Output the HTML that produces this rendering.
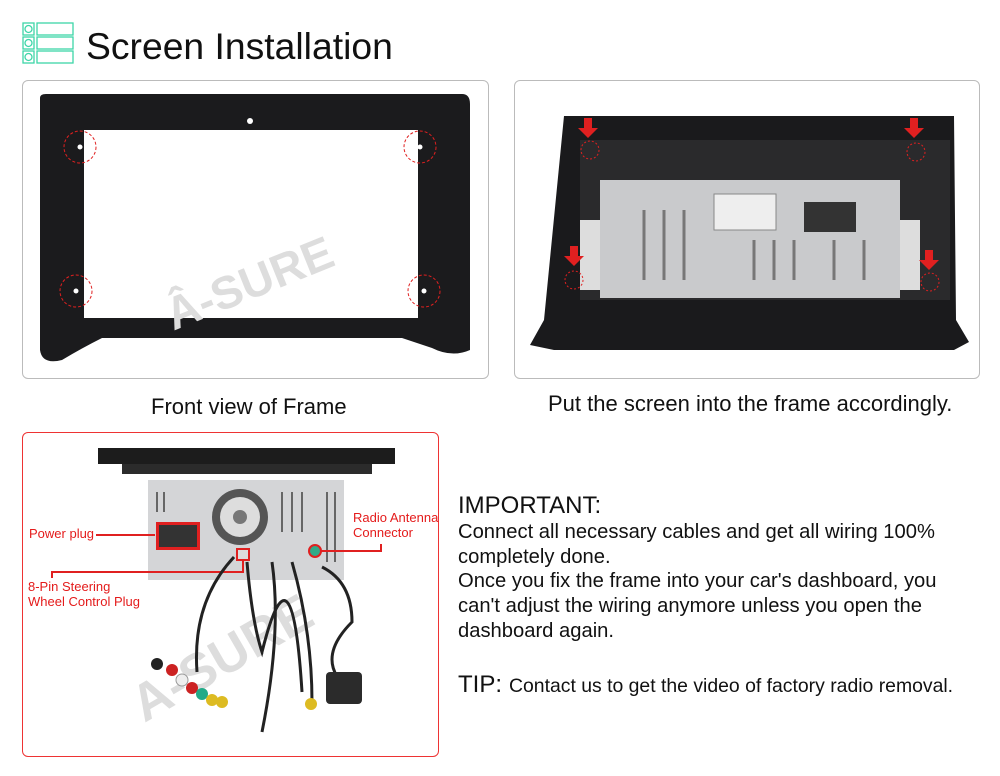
<!DOCTYPE html>
<html><head><style>
body{margin:0;width:1000px;height:776px;background:#fff;position:relative;overflow:hidden;font-family:"Liberation Sans",sans-serif;color:#111}
.a{position:absolute}
.box{position:absolute;border:1px solid #bbb;border-radius:6px;box-sizing:border-box}
.t{position:absolute;white-space:nowrap}
.r{color:#e41b1b;font-size:13px;position:absolute;white-space:nowrap}
</style></head><body>
<svg class="a" style="left:22px;top:22px" width="54" height="44">
<g fill="none" stroke="#3dd6a8" stroke-width="1.3">
<rect x="1" y="1" width="11" height="12"/><circle cx="6.5" cy="7" r="3.5"/><rect x="15" y="1" width="36" height="12"/>
<rect x="1" y="15" width="11" height="12"/><circle cx="6.5" cy="21" r="3.5"/><rect x="15" y="15" width="36" height="12"/>
<rect x="1" y="29" width="11" height="12"/><circle cx="6.5" cy="35" r="3.5"/><rect x="15" y="29" width="36" height="12"/></g></svg>
<div class="t" style="left:86px;top:25px;font-size:37.3px">Screen Installation</div>

<div class="box" style="left:22px;top:80px;width:467px;height:299px"></div>
<svg class="a" style="left:22px;top:80px" width="467" height="299">
<path d="M18 18 Q18 14 24 14 L440 14 Q448 14 448 24 L448 270 Q430 278 410 268 L380 258 L80 258 Q60 268 40 280 Q20 285 18 270 Z" fill="#1b1b1d"/>
<rect x="62" y="50" width="334" height="188" fill="#fff"/>
<text x="130" y="220" font-size="46" font-weight="bold" fill="#ddd" transform="rotate(-22 220 180)" font-family="Liberation Sans">Â-SURE</text>
<g fill="none" stroke="#e02020" stroke-dasharray="3 2"><circle cx="58" cy="67" r="16"/><circle cx="398" cy="67" r="16"/><circle cx="54" cy="211" r="16"/><circle cx="402" cy="211" r="16"/></g>
<g fill="#fff"><circle cx="228" cy="41" r="3"/><circle cx="58" cy="67" r="2.5"/><circle cx="398" cy="67" r="2.5"/><circle cx="54" cy="211" r="2.5"/><circle cx="402" cy="211" r="2.5"/></g>
</svg>
<div class="box" style="left:514px;top:80px;width:466px;height:299px"></div>
<svg class="a" style="left:514px;top:80px" width="466" height="299">
<path d="M50 36 L440 36 L442 240 L455 262 L440 270 L40 270 L16 265 L30 240 Z" fill="#1a1a1c"/>
<rect x="66" y="60" width="370" height="160" fill="#2a2a2c"/>
<rect x="86" y="100" width="300" height="118" fill="#c9cacc"/>
<g stroke="#777" stroke-width="3"><line x1="130" y1="130" x2="130" y2="200"/><line x1="150" y1="130" x2="150" y2="200"/><line x1="170" y1="130" x2="170" y2="200"/><line x1="240" y1="160" x2="240" y2="200"/><line x1="260" y1="160" x2="260" y2="200"/><line x1="280" y1="160" x2="280" y2="200"/><line x1="320" y1="160" x2="320" y2="200"/><line x1="350" y1="160" x2="350" y2="200"/></g>
<rect x="200" y="114" width="62" height="36" fill="#eee" stroke="#888"/>
<rect x="290" y="122" width="52" height="30" fill="#333"/>
<rect x="66" y="140" width="20" height="70" fill="#ddd"/><rect x="386" y="140" width="20" height="70" fill="#ddd"/>
<g fill="#e02020"><path d="M70 38h8v10h6l-10 10-10-10h6z"/><path d="M396 38h8v10h6l-10 10-10-10h6z"/><path d="M56 166h8v10h6l-10 10-10-10h6z"/><path d="M411 170h8v10h6l-10 10-10-10h6z"/></g>
<g fill="none" stroke="#e02020" stroke-dasharray="2 2"><circle cx="76" cy="70" r="9"/><circle cx="402" cy="72" r="9"/><circle cx="60" cy="200" r="9"/><circle cx="416" cy="202" r="9"/></g>
</svg>
<div class="t" style="left:151px;top:394px;font-size:22px">Front view of Frame</div>
<div class="t" style="left:548px;top:391px;font-size:22px">Put the screen into the frame accordingly.</div>

<div class="a" style="left:22px;top:432px;width:417px;height:325px;border:1px solid #e33;border-radius:6px;box-sizing:border-box"></div>
<svg class="a" style="left:22px;top:432px" width="417" height="325">
<rect x="76" y="16" width="297" height="16" fill="#1c1c1c"/><rect x="100" y="32" width="250" height="10" fill="#2b2b2b"/>
<rect x="126" y="48" width="196" height="100" fill="#d4d5d7"/>
<circle cx="218" cy="85" r="28" fill="#555"/><circle cx="218" cy="85" r="20" fill="#ddd"/><circle cx="218" cy="85" r="7" fill="#777"/>
<g stroke="#666" stroke-width="2"><line x1="135" y1="60" x2="135" y2="80"/><line x1="142" y1="60" x2="142" y2="80"/><line x1="260" y1="60" x2="260" y2="100"/><line x1="270" y1="60" x2="270" y2="100"/><line x1="280" y1="60" x2="280" y2="100"/><line x1="305" y1="60" x2="305" y2="130"/><line x1="313" y1="60" x2="313" y2="130"/></g>
<rect x="134" y="90" width="44" height="28" fill="#e02020"/><rect x="137" y="93" width="38" height="22" fill="#333"/>
<rect x="215" y="117" width="12" height="11" fill="#ddd" stroke="#e02020" stroke-width="2"/>
<circle cx="293" cy="119" r="6" fill="#3a8" stroke="#e02020" stroke-width="2"/>
<text x="90" y="230" font-size="52" font-weight="bold" fill="#ddd" transform="rotate(-30 220 200)" font-family="Liberation Sans">A-SURE</text>
<g stroke="#e02020" stroke-width="2" fill="none"><line x1="74" y1="103" x2="133" y2="103"/><polyline points="30,146 30,140 221,140 221,129"/><polyline points="298,119 359,119 359,112"/></g>
<g fill="none" stroke="#222" stroke-width="3"><path d="M212 125 Q170 170 175 240"/><path d="M225 130 Q230 190 240 220 Q270 100 280 260"/><path d="M250 130 Q260 200 240 300"/><path d="M270 130 Q290 200 290 270"/><path d="M300 135 Q330 150 330 190 Q290 230 330 260"/></g>
<rect x="304" y="240" width="36" height="32" rx="4" fill="#2b2b2b"/>
<g><circle cx="135" cy="232" r="6" fill="#222"/><circle cx="150" cy="238" r="6" fill="#c22"/><circle cx="160" cy="248" r="6" fill="#eee" stroke="#999"/><circle cx="170" cy="256" r="6" fill="#c22"/><circle cx="180" cy="262" r="6" fill="#2a8"/><circle cx="190" cy="268" r="6" fill="#db2"/><circle cx="200" cy="270" r="6" fill="#db2"/><circle cx="289" cy="272" r="6" fill="#db2"/></g>
</svg>
<div class="r" style="left:29px;top:526px">Power plug</div>
<div class="r" style="left:353px;top:510px;line-height:15px">Radio Antenna<br>Connector</div>
<div class="r" style="left:28px;top:579px;line-height:15px">8-Pin Steering<br>Wheel Control Plug</div>

<div class="t" style="left:458px;top:492px;font-size:24px">IMPORTANT:</div>
<div class="t" style="left:458px;top:520px;font-size:20.2px;line-height:24.7px">Connect all necessary cables and get all wiring 100%<br>completely done.<br>Once you fix the frame into your car's dashboard, you<br>can't adjust the wiring anymore unless you open the<br>dashboard again.</div>
<div class="t" style="left:458px;top:671px;font-size:24px">TIP:</div>
<div class="t" style="left:509px;top:675px;font-size:19.4px">Contact us to get the video of factory radio removal.</div>
</body></html>
